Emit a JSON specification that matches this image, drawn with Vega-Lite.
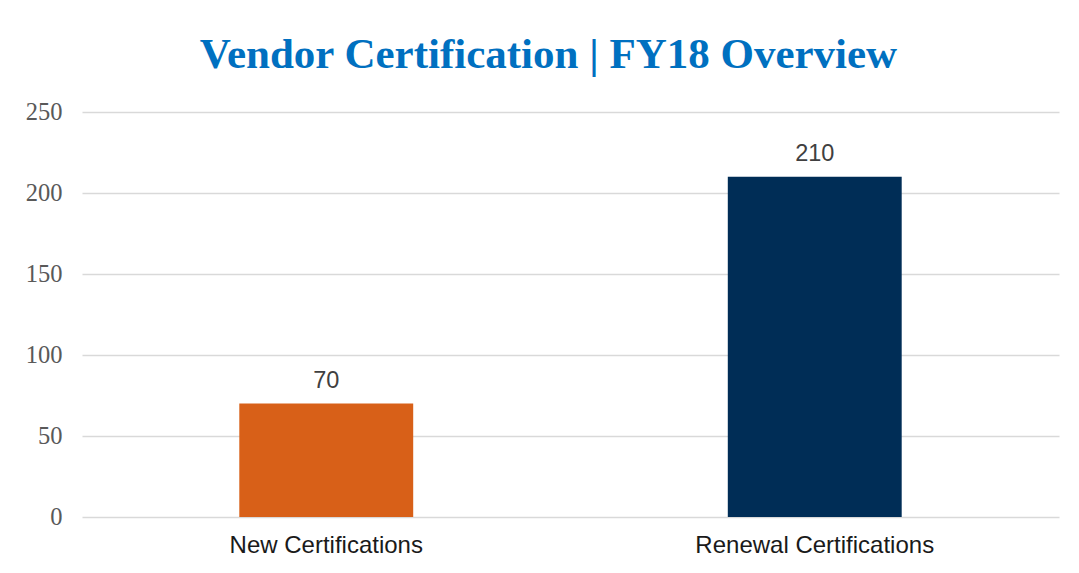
{
  "$schema": "https://vega.github.io/schema/vega-lite/v6.json",
  "autosize": {"type": "none"},
  "width": 977,
  "height": 405,
  "padding": {"left": 82, "top": 112, "right": 20, "bottom": 56},
  "background": "white",
  "title": {
    "text": "Vendor Certification | FY18 Overview",
    "font": "Liberation Serif",
    "fontWeight": "bold",
    "fontSize": 43,
    "color": "#0070C0",
    "anchor": "middle",
    "dx": -22,
    "offset": 22
  },
  "data": {
    "values": [
      {"category": "New Certifications", "count": 70},
      {"category": "Renewal Certifications", "count": 210}
    ]
  },
  "encoding": {
    "x": {
      "field": "category",
      "type": "nominal",
      "sort": null,
      "scale": {"paddingInner": 0, "paddingOuter": 0},
      "axis": {
        "title": null,
        "labelAngle": 0,
        "labelFont": "Liberation Sans",
        "labelFontSize": 24,
        "labelColor": "#1a1a1a",
        "labelPadding": 16,
        "labelLimit": 0,
        "ticks": false,
        "domain": false,
        "grid": false
      }
    },
    "y": {
      "field": "count",
      "type": "quantitative",
      "scale": {"domain": [0, 250], "nice": false},
      "axis": {
        "title": null,
        "values": [0, 50, 100, 150, 200, 250],
        "labelFont": "Liberation Serif",
        "labelFontSize": 24.5,
        "labelColor": "#595959",
        "labelPadding": 20,
        "ticks": false,
        "domain": false,
        "grid": true,
        "gridColor": "#D9D9D9",
        "gridWidth": 1.5
      }
    }
  },
  "layer": [
    {
      "mark": {"type": "bar", "width": {"band": 0.356}},
      "encoding": {
        "color": {
          "field": "category",
          "type": "nominal",
          "scale": {"domain": ["New Certifications", "Renewal Certifications"], "range": ["#D86018", "#002D56"]},
          "legend": null
        }
      }
    },
    {
      "mark": {"type": "text", "baseline": "bottom", "dy": -11, "font": "Liberation Sans", "fontSize": 23.5, "color": "#404040"},
      "encoding": {"text": {"field": "count", "type": "quantitative"}}
    }
  ],
  "config": {"view": {"stroke": null}}
}
